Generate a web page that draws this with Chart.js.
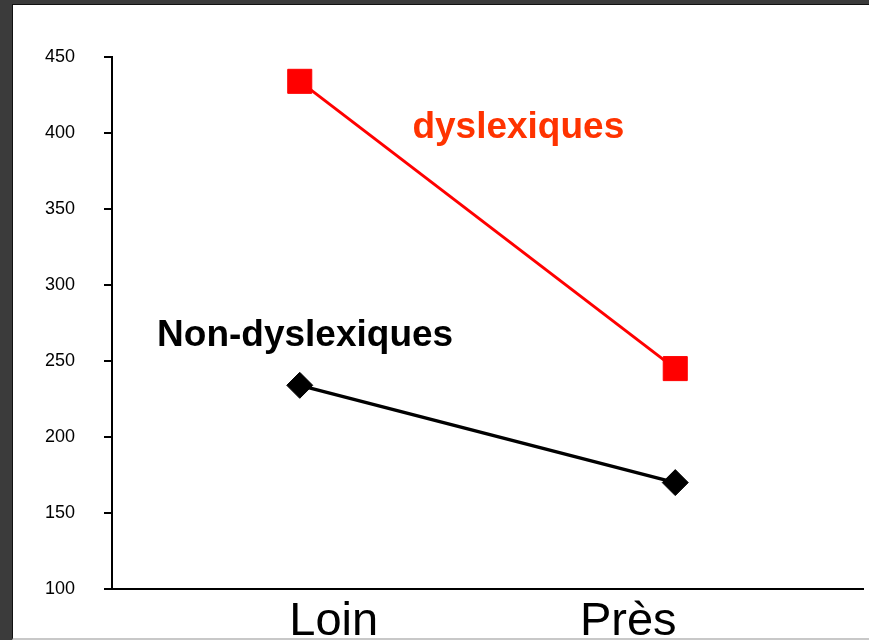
<!DOCTYPE html>
<html>
<head>
<meta charset="utf-8">
<script src="https://cdn.jsdelivr.net/npm/chart.js@4.4.1/dist/chart.umd.min.js"></script>
<style>
  html, body { margin: 0; padding: 0; background: #3b3b3b; }
  .frame { position: absolute; left: 0; top: 0; width: 869px; height: 640px; background: #3b3b3b; overflow: hidden; }
  .sheet { position: absolute; left: 12px; top: 4px; right: 0; bottom: 0; background: #fff;
           border-left: 1px solid #111; border-top: 1px solid #111; border-bottom: 2px solid #c8c8c8; box-sizing: border-box; }
  #chart { position: absolute; left: 0; top: 0; }
</style>
</head>
<body>
<div class="frame">
  <div class="sheet"></div>
  <canvas id="chart" width="881" height="640"></canvas>
</div>
<script>
// conditions on the x axis
var categories = ["Loin", "Près"];
// mean values per group
var dyslexiques = [434, 245];
var nonDyslexiques = [234, 170];
// y axis range and step
var yTicks = [100, 150, 200, 250, 300, 350, 400, 450];

// category labels are shifted a bit from the points they name
var catLabelShift = [34, -47];

// group names written inside the plot, placed in data space
var groupLabels = [
  { text: "dyslexiques", color: "#ff3300", at: 0.3, value: 397 },
  { text: "Non-dyslexiques", color: "#000000", at: -0.38, value: 260 }
];

var textPlugin = {
  id: "texts",
  afterDraw: function (chart) {
    var ctx = chart.ctx;
    var x = chart.scales.x;
    var y = chart.scales.y;
    ctx.save();
    // big category names under the axis
    ctx.fillStyle = "#000";
    ctx.font = "47px 'Liberation Sans', Arial, sans-serif";
    ctx.textAlign = "center";
    ctx.textBaseline = "alphabetic";
    categories.forEach(function (c, i) {
      ctx.fillText(c, x.getPixelForValue(i) + catLabelShift[i], y.bottom + 46);
    });
    // group names
    ctx.font = "bold 37px 'Liberation Sans', Arial, sans-serif";
    ctx.textAlign = "left";
    groupLabels.forEach(function (g) {
      ctx.fillStyle = g.color;
      ctx.fillText(g.text, x.getPixelForValue(g.at), y.getPixelForValue(g.value));
    });
    ctx.restore();
  }
};

new Chart(document.getElementById("chart"), {
  type: "line",
  data: {
    labels: categories,
    datasets: [
      {
        label: "dyslexiques",
        data: dyslexiques,
        borderColor: "#ff0000",
        backgroundColor: "#ff0000",
        borderWidth: 3,
        pointStyle: "rect",
        pointRadius: 17,
        pointBorderWidth: 1,
        pointHoverRadius: 17
      },
      {
        label: "Non-dyslexiques",
        data: nonDyslexiques,
        borderColor: "#000000",
        backgroundColor: "#000000",
        borderWidth: 3.5,
        pointStyle: "rectRot",
        pointRadius: 13,
        pointBorderWidth: 1,
        pointHoverRadius: 13
      }
    ]
  },
  options: {
    responsive: false,
    animation: false,
    layout: { padding: { left: 0, top: 57, right: 0, bottom: 0 } },
    plugins: { legend: { display: false }, tooltip: { enabled: false } },
    scales: {
      x: {
        offset: true,
        grid: { display: false },
        border: { display: true, color: "#000", width: 2 },
        ticks: { display: false },
        afterFit: function (s) { s.height = 51; }
      },
      y: {
        min: yTicks[0],
        max: yTicks[yTicks.length - 1],
        afterBuildTicks: function (s) { s.ticks = yTicks.map(function (v) { return { value: v }; }); },
        grid: { drawOnChartArea: false, drawTicks: true, tickLength: 8, color: "#000", lineWidth: 2 },
        border: { display: true, color: "#000", width: 2 },
        ticks: {
          color: "#000",
          padding: 29,
          font: { family: "'Liberation Sans', Arial, sans-serif", size: 18 }
        },
        afterFit: function (s) { s.width = 112; }
      }
    }
  },
  plugins: [textPlugin]
});
</script>
</body>
</html>
